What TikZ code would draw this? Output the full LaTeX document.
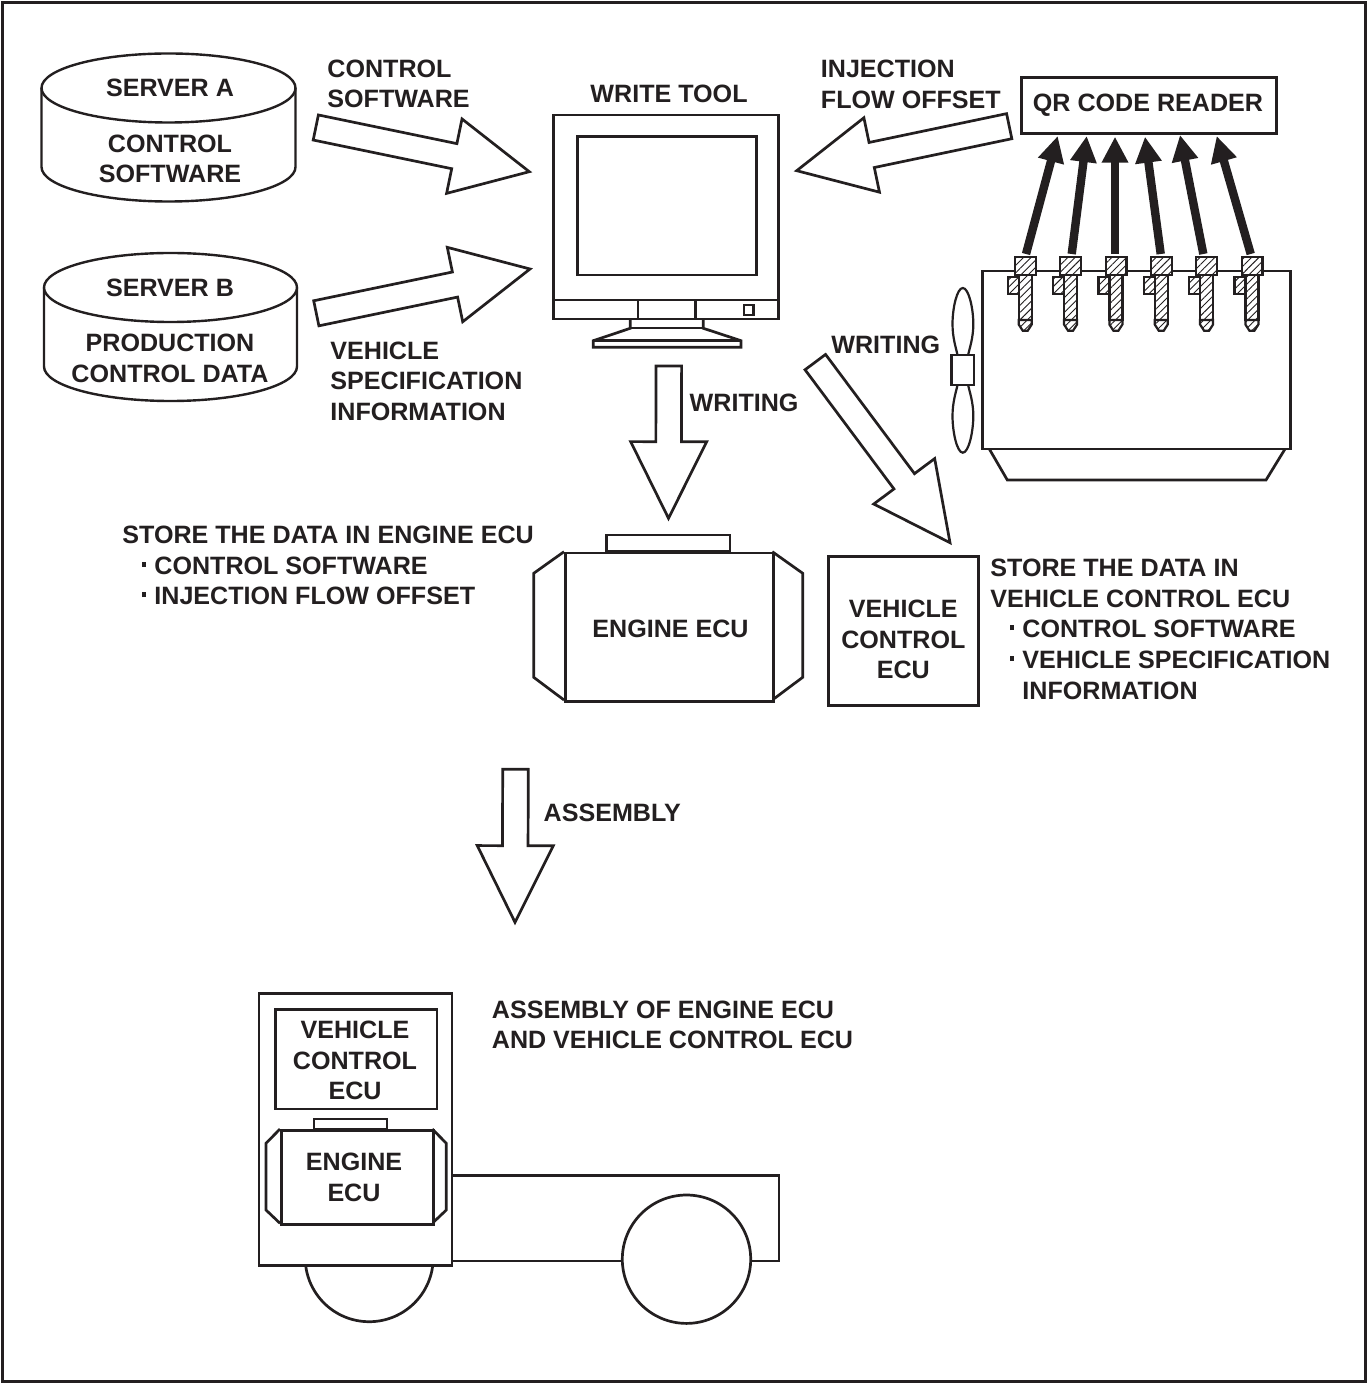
\documentclass[tikz,border=0pt]{standalone}
\usepackage{fontspec}
\setmainfont{Liberation Sans}
\usetikzlibrary{calc,arrows.meta,patterns.meta}
\definecolor{ink}{HTML}{231F20}
\tikzset{
  outline/.style={draw=ink,line width=1.35pt,line join=miter,fill=white},
  thinline/.style={draw=ink,line width=1.2pt,line join=miter},
  lbl/.style={inner sep=0pt,text=ink,align=left,yshift=-0.1pt,font=\bfseries\fontsize{12.55}{15.3}\selectfont},
  ctr/.style={lbl,align=center},
  boxnode/.style={outline,inner sep=0pt},
  hatched/.style={draw=ink,line width=1.1pt,preaction={fill=white},pattern={Lines[angle=45,distance=2.6pt,line width=0.45pt]},pattern color=ink},
  thickarrow/.style={draw=ink,line width=4.2pt,-{Triangle[length=13pt,width=12.5pt]}}
}
% Hollow block arrow running from one named point to another
\newcommand{\blockarrow}[2]{%
  \coordinate (headbase) at ($(#2)!38.3pt!(#1)$);
  \draw[outline] ($(#1)!6.4pt!90:(#2)$) -- ($(headbase)!6.4pt!90:(#2)$) -- ($(headbase)!19pt!90:(#2)$) -- (#2)
    -- ($(headbase)!19pt!-90:(#2)$) -- ($(headbase)!6.4pt!-90:(#2)$) -- ($(#1)!6.4pt!-90:(#2)$) -- cycle;}
% Database cylinder: centre x, lid centre y, side height, x radius
\newcommand{\servershape}[4]{%
  \draw[thinline,fill=white] (#1-#4,#2) -- (#1-#4,#2+#3) arc[start angle=180,end angle=0,x radius=#4,y radius=34.5]
    -- (#1+#4,#2);
  \draw[thinline,fill=white] (#1,#2) ellipse[x radius=#4,y radius=34.5];}
% Small square bullet hanging left of the indented lines
\newcommand{\bul}{\makebox[0pt][r]{\rule[3.9pt]{2.4pt}{2.4pt}\hspace{4pt}}}
\begin{document}
\begin{tikzpicture}[x=0.5pt,y=-0.5pt]
\useasboundingbox (0,0) rectangle (1368,1384);
\fill[white] (0,0) rectangle (1368,1384);
\draw[draw=ink,line width=1.5pt] (2.5,2.5) rectangle (1365.5,1381.5);

% Servers
\servershape{168.5}{88}{79}{127}
\servershape{170.5}{287.5}{79}{126.5}
\node[ctr] (servera) at (170,88) {SERVER A};
\node[ctr] (softa) at (170,158.8) {CONTROL\\SOFTWARE};
\node[ctr] (serverb) at (170,288) {SERVER B};
\node[ctr] (prod) at (170,358.3) {PRODUCTION\\CONTROL DATA};

% Write tool monitor
\node[ctr] (writetool) at (669,94) {WRITE TOOL};
\draw[outline] (630.3,319) -- (630.3,328.3) -- (593.3,340.7) -- (593.3,347.3) -- (741,347.3) -- (741,340.7) -- (703.3,328.3) -- (703.3,319);
\draw[thinline] (630.3,328.3) -- (703.3,328.3) (593.3,340.7) -- (741,340.7);
\draw[outline] (553.3,115) rectangle (778.7,319);
\draw[outline] (577.3,136.7) rectangle (756.7,275);
\draw[thinline] (553.3,300) -- (778.7,300) (637.7,300) -- (637.7,319) (695.3,300) -- (695.3,319);
\draw[thinline] (744,305) rectangle (753.3,315);

% Block arrows and their end points
\coordinate (aS) at (315.8,127.5); \coordinate (aT) at (529.3,171.7);
\coordinate (bS) at (316.3,313.3); \coordinate (bT) at (530,269);
\coordinate (cS) at (1009.2,126.2); \coordinate (cT) at (796.7,170.7);
\coordinate (dS) at (668.8,366); \coordinate (dT) at (668.5,518.3);
\coordinate (eS) at (815.3,362.1); \coordinate (eT) at (950,542.7);
\coordinate (fS) at (515.5,769.3); \coordinate (fT) at (515,922.3);
\blockarrow{aS}{aT}
\blockarrow{bS}{bT}
\blockarrow{cS}{cT}
\blockarrow{dS}{dT}
\blockarrow{eS}{eT}
\blockarrow{fS}{fT}

% Arrow captions
\node[lbl,anchor=west] (capa) at (327,83.5) {CONTROL\\SOFTWARE};
\node[lbl,anchor=west] (capc) at (820.5,84) {INJECTION\\FLOW OFFSET};
\node[lbl,anchor=west] (capb) at (330,381) {VEHICLE\\SPECIFICATION\\INFORMATION};
\node[lbl,anchor=west] (capd) at (689.3,402.7) {WRITING};
\node[lbl,anchor=west] (cape) at (831,345) {WRITING};
\node[lbl,anchor=west] (capf) at (543.3,812.3) {ASSEMBLY};

% QR code reader
\node[boxnode,minimum width=127.5pt,minimum height=27.8pt] (qr) at (1149.2,105.5) {};
\node[ctr] (qrtext) at (1148,105.3) {QR CODE READER};

% Engine block with cooling fan
\draw[outline] (989.3,449) -- (1007.3,480) -- (1266,480) -- (1285,449);
\draw[outline] (982.7,271) rectangle (1290.7,449);
\draw[thinline,line width=1.1pt,fill=white] (957.5,385) .. controls (956,392) and (952.5,402) .. (952.5,416)
  .. controls (952.5,432) and (957,452.7) .. (962.8,452.7) .. controls (968.6,452.7) and (973.3,432) .. (973.3,416)
  .. controls (973.3,402) and (969.6,392) .. (968.1,385);
\draw[thinline,line width=1.1pt,fill=white] (957.5,355) .. controls (956,348) and (952.5,338) .. (952.5,324)
  .. controls (952.5,308) and (957,288) .. (962.8,288) .. controls (968.6,288) and (973.3,308) .. (973.3,324)
  .. controls (973.3,338) and (969.6,348) .. (968.1,355);
\draw[outline] (951.7,355) rectangle (974,385);

% Injectors
\foreach \i in {0,...,5} {
  \begin{scope}[xshift=\i*22.67pt]
    \draw[hatched] (1007.7,277.3) rectangle (1018.7,294.3);
    \draw[hatched] (1018.7,274.7) -- (1018.7,320) -- (1031.7,320) -- (1031.7,274.7) -- cycle;
    \draw[hatched] (1018.7,320) -- (1018.7,324.5) -- (1022.7,330.7) -- (1027.7,330.7) -- (1031.7,324.5) -- (1031.7,320) -- cycle;
    \draw[hatched] (1015,257.3) rectangle (1035.7,274.7);
  \end{scope}
}

% Reading arrows from the injectors up to the reader
\foreach \i/\tx/\hx/\hy in {1/1026/1057.7/136,2/1071.7/1086.7/136,3/1115/1115/136.7,4/1160.7/1145/136.7,5/1203.3/1180/135,6/1250.7/1216.7/136} {
  \coordinate (tail\i) at (\tx,254);
  \coordinate (head\i) at (\hx,\hy);
  \draw[thickarrow] (tail\i) -- (head\i);
}

% Engine ECU
\draw[outline] (606.7,535) rectangle (730,551.7);
\draw[outline] (564,551.7) -- (533.7,573.3) -- (533.7,677.3) -- (564,700);
\draw[outline] (772.3,551.7) -- (802.7,573.3) -- (802.7,677.3) -- (772.3,700);
\node[boxnode,minimum width=104.15pt,minimum height=74.15pt,anchor=north west] (ecu) at (564,551.7) {};
\node[ctr] (ecutext) at (670.5,629) {ENGINE ECU};
\draw[draw=ink,line width=2pt] (606.7,551.7) -- (730,551.7);

% Vehicle control ECU
\node[boxnode,minimum width=75pt,minimum height=74.5pt] (vcu) at (903.3,631.2) {};
\node[ctr] (vcutext) at (903.3,639.5) {VEHICLE\\CONTROL\\ECU};

% Stored data lists
\node[lbl,anchor=west] (store1) at (122,565.5) {STORE THE DATA IN ENGINE ECU\\\hspace*{16pt}\bul CONTROL SOFTWARE\\\hspace*{16pt}\bul INJECTION FLOW OFFSET};
\node[lbl,anchor=west] (store2) at (990,629) {STORE THE DATA IN\\VEHICLE CONTROL ECU\\\hspace*{16pt}\bul CONTROL SOFTWARE\\\hspace*{16pt}\bul VEHICLE SPECIFICATION\\\hspace*{16pt}INFORMATION};

% Truck with both ECUs fitted
\draw[outline] (452.3,1175.7) -- (779,1175.7) -- (779,1261) -- (452.3,1261);
\draw[outline] (686.5,1259.2) circle[radius=64.2];
\draw[outline] (369.2,1257.7) circle[radius=64];
\draw[outline] (259,993.3) rectangle (452,1265.7);
\node[boxnode,minimum width=80.85pt,minimum height=49.7pt,anchor=north west] (truckvcu) at (274,1008.3) {};
\node[ctr] (truckvcutext) at (355,1060.3) {VEHICLE\\CONTROL\\ECU};
\draw[outline] (314,1119) rectangle (387,1129);
\draw[outline] (280,1129) -- (266,1143.3) -- (266,1210) -- (280,1223.3);
\draw[outline] (432.3,1129) -- (446.3,1143.3) -- (446.3,1210) -- (432.3,1223.3);
\node[boxnode,minimum width=76.15pt,minimum height=47.15pt,anchor=north west] (truckecu) at (280,1129) {};
\node[ctr] (truckecutext) at (354,1177) {ENGINE\\ECU};
\node[lbl,anchor=west] (asmtext) at (491.5,1024.5) {ASSEMBLY OF ENGINE ECU\\AND VEHICLE CONTROL ECU};
\end{tikzpicture}
\end{document}
